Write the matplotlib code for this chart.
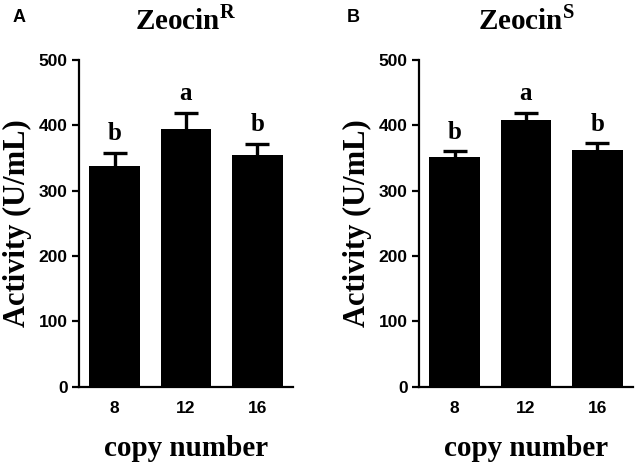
import numpy as np
import matplotlib
matplotlib.use("Agg")
import matplotlib.pyplot as plt

SERIF = "Liberation Serif"
SANS = "Liberation Sans"

copies = ["8", "12", "16"]
panels = ["A", "B"]
titles = ["R", "S"]  # superscript on Zeocin
activity_r = [337, 395, 354]
err_r = [21, 24, 18]
letters_r = ["b", "a", "b"]
activity_s = [352, 408, 363]
err_s = [8, 11, 10]
letters_s = ["b", "a", "b"]
yticks = [0, 100, 200, 300, 400, 500]

plt.rcParams["mathtext.fontset"] = "custom"
plt.rcParams["mathtext.rm"] = SERIF
plt.rcParams["mathtext.bf"] = SERIF + ":bold"


def draw_panel(fig, rect, sup, vals, errs, letters):
    ax = fig.add_axes(rect)
    x = np.arange(len(copies))
    # error bars sit behind the bars so only the upper half shows
    ax.errorbar(x, vals, yerr=errs, fmt="none", ecolor="black",
                elinewidth=2.4, capsize=8.3, capthick=2.4, zorder=1)
    ax.bar(x, vals, width=0.71, color="black", linewidth=0, zorder=2)
    for xi, v, e, t in zip(x, vals, errs, letters):
        ax.text(xi, v + e + 19, t, ha="center", va="baseline",
                fontsize=18, fontweight="bold", family=SERIF)

    ax.set_xlim(-0.5, 2.5)
    ax.set_ylim(0, 500)
    ax.set_yticks(yticks)
    ax.set_xticks(x)
    ax.set_xticklabels(copies)
    for s in ["top", "right"]:
        ax.spines[s].set_visible(False)
    for s in ["left", "bottom"]:
        ax.spines[s].set_linewidth(1.6)
        ax.spines[s].set_zorder(3)
    ax.tick_params(axis="y", length=5, width=1.6, pad=3)
    ax.tick_params(axis="x", length=0, pad=10)
    for lab in ax.get_xticklabels() + ax.get_yticklabels():
        lab.set_fontfamily(SANS)
        lab.set_fontweight("bold")
        lab.set_fontsize(12.5)

    ax.set_ylabel("Activity (U/mL)", family=SERIF, fontweight="bold",
                  fontsize=22, labelpad=5)
    ax.set_xlabel("copy number", family=SERIF, fontweight="bold",
                  fontsize=21, labelpad=14)
    ax.set_title(r"$\mathbf{Zeocin}^{\mathbf{%s}}$" % sup, fontsize=21,
                 pad=22)
    return ax


fig = plt.figure(figsize=(6.38, 4.65), dpi=100)
draw_panel(fig, [0.1238, 0.1684, 0.3354, 0.7026], titles[0],
           activity_r, err_r, letters_r)
draw_panel(fig, [0.6567, 0.1684, 0.3354, 0.7026], titles[1],
           activity_s, err_s, letters_s)
fig.text(0.020, 0.963, panels[0], family=SANS, fontweight="bold",
         fontsize=13, va="center", ha="left")
fig.text(0.543, 0.963, panels[1], family=SANS, fontweight="bold",
         fontsize=13, va="center", ha="left")

fig.savefig("out.png", dpi=100)
